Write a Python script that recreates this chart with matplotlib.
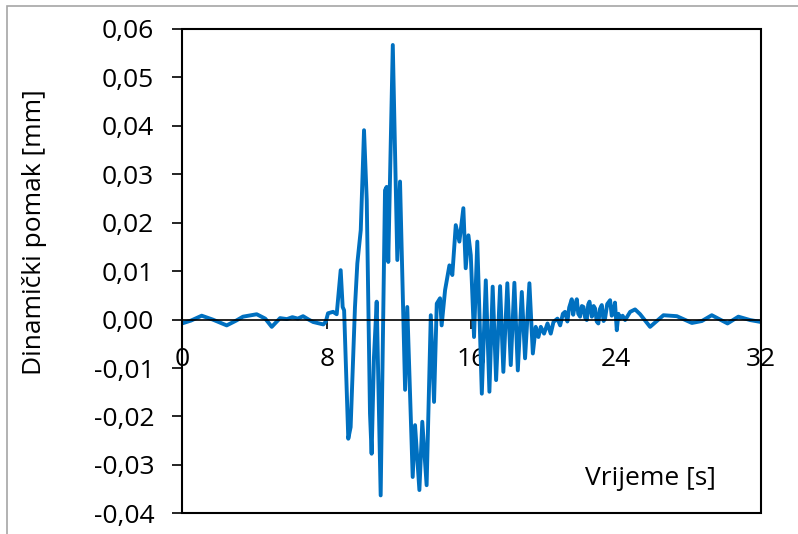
#!/usr/bin/env python

import numpy as np
import matplotlib
matplotlib.use('Agg')
import matplotlib.pyplot as plt
from matplotlib.patches import Rectangle
from matplotlib.ticker import FuncFormatter

# time [s] and dynamic displacement [mm]
time = [0.0, 0.5, 1.09, 1.7, 2.47, 3.0, 3.37, 4.13, 4.6, 4.96, 5.42, 5.8,
        6.1, 6.4, 6.69, 7.0, 7.25, 7.81, 7.95, 8.07, 8.35, 8.55, 8.77, 8.88,
        8.96, 9.19, 9.32, 9.56, 9.69, 9.88, 10.06, 10.21, 10.39, 10.48,
        10.61, 10.76, 10.98, 11.22, 11.31, 11.40, 11.65, 11.90, 12.05,
        12.33, 12.45, 12.75, 12.88, 13.12, 13.28, 13.52, 13.75, 13.93,
        14.08, 14.26, 14.35, 14.54, 14.78, 14.94, 15.13, 15.33, 15.55,
        15.68, 15.83, 15.96, 16.14, 16.32, 16.57, 16.79, 16.99, 17.17,
        17.36, 17.58, 17.76, 17.98, 18.17, 18.37, 18.56, 18.78, 18.96,
        19.2, 19.39, 19.55, 19.70, 19.83, 20.01, 20.2, 20.38, 20.53, 20.75,
        20.9, 21.05, 21.17, 21.3, 21.4, 21.54, 21.62, 21.72, 21.82, 21.9,
        22.0, 22.1, 22.19, 22.28, 22.37, 22.45, 22.52, 22.65, 22.75, 22.83,
        22.92, 23.01, 23.1, 23.2, 23.3, 23.38, 23.5, 23.66, 23.75, 23.84,
        23.93, 24.03, 24.12, 24.21, 24.35, 24.49, 24.77, 25.04, 25.32,
        25.87, 26.61, 27.35, 28.18, 28.73, 29.28, 30.15, 30.75, 31.4, 32.0]
pomak = [-0.0008, -0.0002, 0.0008, 0.0, -0.0012, -0.0002, 0.0006, 0.0011,
         0.0002, -0.0015, 0.0003, 0.0001, 0.0005, 0.0002, 0.0007, 0.0,
         -0.0005, -0.001, -0.0004, 0.0013, 0.0016, 0.0011, 0.0102, 0.0026,
         0.0019, -0.0246, -0.0222, 0.0026, 0.0116, 0.0185, 0.0391, 0.0247,
         -0.0194, -0.0277, -0.0077, 0.0037, -0.0363, 0.0267, 0.0274, 0.0119,
         0.0567, 0.0123, 0.0285, -0.0145, 0.0026, -0.0325, -0.0218, -0.0352,
         -0.0211, -0.0342, 0.0009, -0.017, 0.0033, 0.0044, -0.0012, 0.0061,
         0.0112, 0.0092, 0.0195, 0.0161, 0.0230, 0.0106, 0.0174, 0.0133,
         -0.0036, 0.0161, -0.0153, 0.0081, -0.0149, 0.0068, -0.0125, 0.0069,
         -0.0108, 0.0075, -0.0094, 0.0076, -0.0105, 0.0057, -0.008, 0.0075,
         -0.007, -0.0015, -0.0036, -0.0015, -0.0029, -0.0008, -0.0029,
         -0.0005, 0.0002, -0.0012, 0.0012, 0.0016, -0.0004, 0.0025, 0.0042,
         0.001, 0.003, 0.0042, 0.0012, 0.0006, 0.0028, 0.0026, 0.0004,
         -0.0001, 0.0031, 0.0037, 0.0006, 0.0028, 0.0023, -0.0004, -0.0008,
         0.0022, 0.003, -0.0003, 0.0002, 0.0032, 0.004, 0.0008, 0.0013,
         0.0035, -0.0022, 0.0012, 0.0002, 0.0008, -0.0001, 0.0016, 0.0021,
         0.0011, -0.0015, 0.0009, 0.0007, -0.0007, -0.0003, 0.0009, -0.0008,
         0.0006, -0.0001, -0.0005]

x_ticks = [0, 8, 16, 24, 32]
y_ticks = np.arange(-0.04, 0.0601, 0.01)

plt.rcParams['font.family'] = ['Open Sans', 'DejaVu Sans']
fs = 19

fig = plt.figure(figsize=(7.98, 5.34), dpi=100)
ax = fig.add_axes([182/798, 1 - 513.3/534, 579/798, 484.3/534])

ax.plot(time, pomak, color='#0070C0', linewidth=2.8, solid_joinstyle='round')

ax.set_xlim(0, 32)
ax.set_ylim(-0.04, 0.06)
ax.set_xticks(x_ticks)
ax.set_yticks(y_ticks)
ax.yaxis.set_major_formatter(FuncFormatter(lambda v, p: f'{v:.2f}'.replace('.', ',').replace('-0,00', '0,00')))

# x axis crosses at zero, frame drawn separately
ax.spines['bottom'].set_position(('data', 0))
for s in ['top', 'right', 'left']:
    ax.spines[s].set_visible(False)
ax.spines['bottom'].set_linewidth(1.2)
ax.add_patch(Rectangle((0, 0), 1, 1, transform=ax.transAxes, fill=False,
                       edgecolor='black', linewidth=1.5, clip_on=False, zorder=5))

ax.tick_params(axis='y', direction='out', length=7, width=1.2, pad=13, labelsize=fs)
ax.tick_params(axis='x', direction='out', length=6.5, width=1.2, pad=13, labelsize=fs)

ax.text(25.87, -0.0328, 'Vrijeme [s]', fontsize=fs, ha='center', va='center')
fig.text(35/798, 1 - 232/534, 'Dinamički pomak [mm]', fontsize=fs,
         rotation=90, ha='center', va='center')

# outer chart border
fig.patches.append(Rectangle((7/798, -0.1), 1.2, 1 - 6/534 + 0.1,
                             transform=fig.transFigure, fill=False,
                             edgecolor='#A6A6A6', linewidth=1.2))

plt.savefig('out.png', dpi=100)
